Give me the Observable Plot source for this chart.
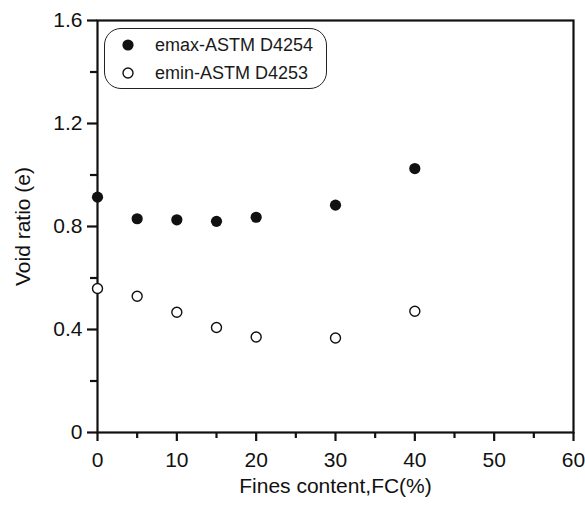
<!DOCTYPE html>
<html><head><meta charset="utf-8">
<script src="https://cdn.jsdelivr.net/npm/d3@7"></script>
<script src="https://cdn.jsdelivr.net/npm/@observablehq/plot@0.6"></script>
<style>
body{margin:0;background:#fff;font-family:"Liberation Sans",Arial,sans-serif;}
#wrap{position:relative;width:585px;height:508px;}
.legend{position:absolute;left:104px;top:28px;width:223px;height:61px;border:1.3px solid #222;border-radius:17px;box-sizing:border-box;font-size:18px;color:#1a1a1a;}
.legend .row{position:absolute;left:0;height:22px;display:flex;align-items:center;white-space:nowrap;}
.legend svg{margin-left:16px;margin-right:20px;}
</style></head><body><div id="wrap"></div>
<script>
const fc = [0, 5, 10, 15, 20, 30, 40];
const emax = [0.914, 0.830, 0.826, 0.820, 0.836, 0.883, 1.025];
const emin = [0.559, 0.529, 0.467, 0.408, 0.371, 0.367, 0.471];
const seriesNames = ["emax-ASTM D4254", "emin-ASTM D4253"];
const xMajor = [0, 10, 20, 30, 40, 50, 60];
const xMinor = [5, 15, 25, 35, 45, 55];
const yMajor = [0, 0.4, 0.8, 1.2, 1.6];
const yMinor = [0.2, 0.6, 1.0, 1.4];
const xTitle = "Fines content,FC(%)";
const yTitle = "Void ratio (e)";

const dataMax = fc.map((x, i) => ({x, y: emax[i]}));
const dataMin = fc.map((x, i) => ({x, y: emin[i]}));
const ink = "#111";
const font = '"Liberation Sans", Arial, sans-serif';

const chart = Plot.plot({
  width: 585, height: 508,
  marginLeft: 97, marginRight: 12, marginTop: 20, marginBottom: 76,
  x: {domain: [0, 60]},
  y: {domain: [0, 1.6]},
  style: {fontFamily: font, fontSize: "21px", color: ink, background: "#fff", overflow: "visible"},
  marks: [
    Plot.axisX({ticks: xMajor, tickSize: 9, tickPadding: 11, stroke: ink, strokeWidth: 2.2, strokeOpacity: 1, label: null, fontSize: 21, fill: ink, tickFormat: d => String(d)}),
    Plot.axisX({ticks: xMinor, tickSize: 6, text: null, stroke: ink, strokeWidth: 2.2, strokeOpacity: 1, label: null}),
    Plot.axisY({ticks: yMajor, tickSize: 10, tickPadding: 5, stroke: ink, strokeWidth: 2.2, strokeOpacity: 1, label: null, fontSize: 21, fill: ink, tickFormat: d => d === 0 ? "0" : d.toFixed(1)}),
    Plot.axisY({ticks: yMinor, tickSize: 7, text: null, stroke: ink, strokeWidth: 2.2, strokeOpacity: 1, label: null}),
    Plot.frame({stroke: ink, strokeWidth: 2.2, strokeOpacity: 1}),
    Plot.dot(dataMax, {x: "x", y: "y", r: 5.6, fill: ink, stroke: null}),
    Plot.dot(dataMin, {x: "x", y: "y", r: 5, fill: "white", stroke: ink, strokeWidth: 1.4}),
    Plot.text([xTitle], {text: d => d, frameAnchor: "bottom", dy: 60, fontSize: 21, fill: ink}),
    Plot.text([yTitle], {text: d => d, frameAnchor: "left", dx: -74, rotate: -90, textAnchor: "middle", fontSize: 21, fill: ink})
  ]
});
const wrap = document.getElementById("wrap");
wrap.appendChild(chart);

const legend = document.createElement("div");
legend.className = "legend";
const styles = [{fill: ink, stroke: "none", r: 5.6}, {fill: "white", stroke: ink, r: 5}];
seriesNames.forEach((name, i) => {
  const row = document.createElement("div");
  row.className = "row";
  row.style.top = (i === 0 ? 5 : 33) + "px";
  const s = styles[i];
  row.innerHTML = `<svg width="14" height="14"><circle cx="7" cy="7" r="${s.r}" fill="${s.fill}" stroke="${s.stroke}" stroke-width="1.4"/></svg><span>${name}</span>`;
  legend.appendChild(row);
});
wrap.appendChild(legend);
</script></body></html>
